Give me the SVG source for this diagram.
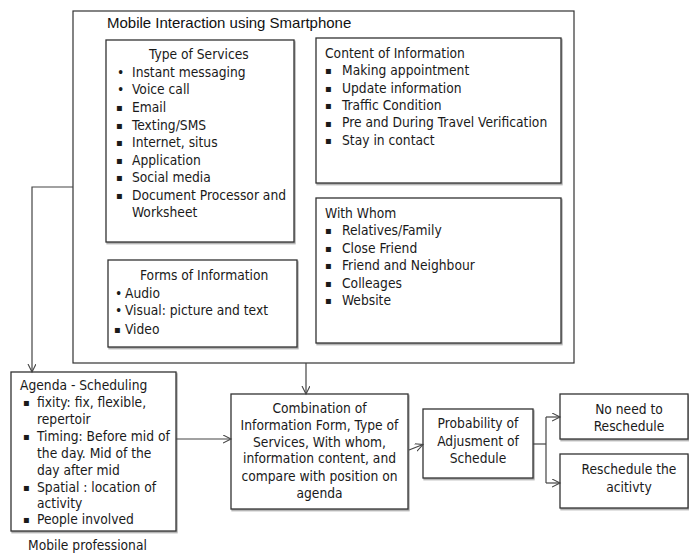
<svg xmlns="http://www.w3.org/2000/svg" width="689" height="555" viewBox="0 0 689 555">
<style>
.box{fill:#fff;stroke:#333;stroke-width:1.3;filter:url(#sh)}
.outer{fill:none;stroke:#333;stroke-width:1.2}
.t{font-family:"DejaVu Sans Condensed","DejaVu Sans",sans-serif;font-size:13.7px;fill:#1a1a1a}
.b{font-family:"DejaVu Sans",sans-serif;font-size:10px;fill:#1a1a1a}
.c{text-anchor:middle}
.ttl{font-family:"Liberation Sans",Arial,sans-serif;font-size:15px;fill:#111}
.ln{fill:none;stroke:#444;stroke-width:1.2}
</style>
<defs>
<filter id="sh" x="-5%" y="-5%" width="110%" height="115%">
<feDropShadow dx="1" dy="1.5" stdDeviation="0.6" flood-color="#000" flood-opacity="0.35"/>
</filter>
<marker id="ah" markerWidth="10" markerHeight="10" refX="8" refY="4" orient="auto" markerUnits="userSpaceOnUse">
<path d="M0,0 L8,4 L0,8" fill="none" stroke="#444" stroke-width="1.1"/>
</marker>
</defs>
<rect width="689" height="555" fill="#fff"/>

<g id="mobile-interaction">
<rect class="outer" x="73" y="11" width="501" height="352"/>
<text class="ttl" x="107" y="28">Mobile Interaction using Smartphone</text>
</g>

<g id="type-of-services">
<rect class="box" x="106" y="40" width="188" height="202"/>
<text class="t" x="149" y="58.5">Type of Services</text>
<text class="t" x="117" y="76.5">•</text><text class="t" x="132" y="76.5">Instant messaging</text>
<text class="t" x="117" y="94">•</text><text class="t" x="132" y="94">Voice call</text>
<text class="b" x="116" y="111">▪</text><text class="t" x="132" y="111.5">Email</text>
<text class="b" x="116" y="129">▪</text><text class="t" x="132" y="129.5">Texting/SMS</text>
<text class="b" x="116" y="146">▪</text><text class="t" x="132" y="146.5">Internet, situs</text>
<text class="b" x="116" y="164">▪</text><text class="t" x="132" y="164.5">Application</text>
<text class="b" x="116" y="181">▪</text><text class="t" x="132" y="181.5">Social media</text>
<text class="b" x="116" y="199">▪</text><text class="t" x="132" y="199.5">Document Processor and</text>
<text class="t" x="132" y="216.5">Worksheet</text>
</g>

<g id="content-of-information">
<rect class="box" x="316" y="38" width="245" height="145"/>
<text class="t" x="325" y="57.5">Content of Information</text>
<text class="b" x="325" y="74">▪</text><text class="t" x="342" y="74.5">Making appointment</text>
<text class="b" x="325" y="92">▪</text><text class="t" x="342" y="92.5">Update information</text>
<text class="b" x="325" y="109">▪</text><text class="t" x="342" y="109.5">Traffic Condition</text>
<text class="b" x="325" y="126.5">▪</text><text class="t" x="342" y="127">Pre and During Travel Verification</text>
<text class="b" x="325" y="144">▪</text><text class="t" x="342" y="144.5">Stay in contact</text>
</g>

<g id="with-whom">
<rect class="box" x="316" y="198" width="245" height="145"/>
<text class="t" x="325" y="217.5">With Whom</text>
<text class="b" x="325" y="234">▪</text><text class="t" x="342" y="234.5">Relatives/Family</text>
<text class="b" x="325" y="252">▪</text><text class="t" x="342" y="252.5">Close Friend</text>
<text class="b" x="325" y="269">▪</text><text class="t" x="342" y="269.5">Friend and Neighbour</text>
<text class="b" x="325" y="287">▪</text><text class="t" x="342" y="287.5">Colleages</text>
<text class="b" x="325" y="304">▪</text><text class="t" x="342" y="304.5">Website</text>
</g>

<g id="forms-of-information">
<rect class="box" x="108" y="260" width="189" height="87"/>
<text class="t" x="140" y="279.5">Forms of Information</text>
<text class="t" x="115" y="297.5">•</text><text class="t" x="125" y="297.5">Audio</text>
<text class="t" x="115" y="314.5">•</text><text class="t" x="125" y="314.5">Visual: picture and text</text>
<text class="b" x="114" y="333">▪</text><text class="t" x="125" y="333.5">Video</text>
</g>

<g id="agenda-scheduling">
<rect class="box" x="11" y="372" width="165" height="159"/>
<text class="t" x="20" y="389.5">Agenda - Scheduling</text>
<text class="b" x="23" y="406">▪</text><text class="t" x="37" y="406.5">fixity: fix, flexible,</text>
<text class="t" x="37" y="423.5">repertoir</text>
<text class="b" x="23" y="440">▪</text><text class="t" x="37" y="440.5">Timing: Before mid of</text>
<text class="t" x="37" y="457.5">the day. Mid of the</text>
<text class="t" x="37" y="474.5">day after mid</text>
<text class="b" x="23" y="491">▪</text><text class="t" x="37" y="491.5">Spatial : location of</text>
<text class="t" x="37" y="507.5">activity</text>
<text class="b" x="23" y="523">▪</text><text class="t" x="37" y="523.5">People involved</text>
</g>

<g id="mobile-professional">
<text class="t" x="28" y="550">Mobile professional</text>
</g>

<g id="combination">
<rect class="box" x="231" y="394" width="177" height="115"/>
<text class="t c" x="319.5" y="412.5">Combination of</text>
<text class="t c" x="319.5" y="429.5">Information Form, Type of</text>
<text class="t c" x="319.5" y="446.5">Services, With whom,</text>
<text class="t c" x="319.5" y="462.5">information content, and</text>
<text class="t c" x="319.5" y="480.5">compare with position on</text>
<text class="t c" x="319.5" y="497.5">agenda</text>
</g>

<g id="probability">
<rect class="box" x="423" y="409" width="110" height="69"/>
<text class="t c" x="478" y="427.5">Probability of</text>
<text class="t c" x="478" y="445.5">Adjusment of</text>
<text class="t c" x="478" y="462.5">Schedule</text>
</g>

<g id="no-need">
<rect class="box" x="560" y="394" width="128" height="45"/>
<text class="t c" x="629" y="413.5">No need to</text>
<text class="t c" x="629" y="430.5">Reschedule</text>
</g>

<g id="reschedule">
<rect class="box" x="560" y="454" width="128" height="54"/>
<text class="t c" x="629" y="473.5">Reschedule the</text>
<text class="t c" x="629" y="491.5">acitivty</text>
</g>

<g id="connectors">
<polyline class="ln" points="73,187 32,187 32,372" marker-end="url(#ah)"/>
<line class="ln" x1="306" y1="363" x2="306" y2="394" marker-end="url(#ah)"/>
<line class="ln" x1="176" y1="439" x2="231" y2="439" marker-end="url(#ah)"/>
<line class="ln" x1="409" y1="450" x2="423" y2="444.5" marker-end="url(#ah)"/>
<line class="ln" x1="533" y1="444" x2="546" y2="444"/>
<line class="ln" x1="546" y1="417" x2="546" y2="483"/>
<line class="ln" x1="546" y1="417" x2="560" y2="417" marker-end="url(#ah)"/>
<line class="ln" x1="546" y1="483" x2="560" y2="483" marker-end="url(#ah)"/>
</g>
</svg>
